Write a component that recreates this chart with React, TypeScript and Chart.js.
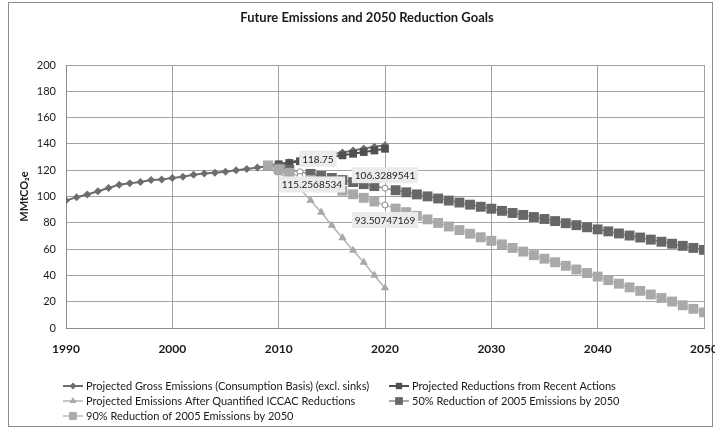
import React, { useEffect, useRef } from 'react';
import { Chart, registerables } from 'chart.js';
import { drawPoint } from 'chart.js/helpers';

Chart.register(...registerables);

const TITLE = 'Future Emissions and 2050 Reduction Goals';
const Y_TITLE = 'MMtCO₂e';
const FONT = 'Lato, "Open Sans", "DejaVu Sans", sans-serif';

const grossYears = [1990, 1991, 1992, 1993, 1994, 1995, 1996, 1997, 1998, 1999, 2000, 2001, 2002, 2003, 2004, 2005, 2006, 2007, 2008, 2009, 2010, 2011, 2012, 2013, 2014, 2015, 2016, 2017, 2018, 2019, 2020];
const grossValues = [97, 99.5, 101.5, 104, 106.5, 109, 110, 111, 112.5, 113, 114, 115, 116.5, 117.5, 118, 118.75, 120, 121, 122, 123, 124.5, 126, 127.5, 129, 130.5, 132, 133.5, 135, 136.5, 137.8, 139];

const recentYears = [2010, 2011, 2012, 2013, 2014, 2015, 2016, 2017, 2018, 2019, 2020];
const recentValues = [124.5, 125.5, 126.8, 127.8, 129, 130, 131.3, 132.5, 133.8, 135, 136.3];

const iccacYears = [2010, 2011, 2012, 2013, 2014, 2015, 2016, 2017, 2018, 2019, 2020];
const iccacValues = [118, 113, 106, 97, 88, 78, 68.5, 59, 50, 40, 30.5];

const goalYears = [2009, 2010, 2011, 2012, 2013, 2014, 2015, 2016, 2017, 2018, 2019, 2020, 2021, 2022, 2023, 2024, 2025, 2026, 2027, 2028, 2029, 2030, 2031, 2032, 2033, 2034, 2035, 2036, 2037, 2038, 2039, 2040, 2041, 2042, 2043, 2044, 2045, 2046, 2047, 2048, 2049, 2050];
const half2050Values = [123.4, 121.9, 120.3, 118.75, 117.2, 115.6, 114.1, 112.5, 111.0, 109.4, 107.9, 106.3289541, 104.8, 103.2, 101.6, 100.1, 98.5, 96.9, 95.4, 93.8, 92.2, 90.7, 89.1, 87.5, 86.0, 84.4, 82.9, 81.3, 79.7, 78.2, 76.6, 75.0, 73.5, 71.9, 70.3, 68.8, 67.2, 65.6, 64.1, 62.5, 60.9, 59.4];
const ninety2050Values = [123.4, 120.7, 118.0, 115.2568534, 112.5, 109.8, 107.1, 104.4, 101.7, 99.0, 96.2, 93.50747169, 90.8, 88.1, 85.3, 82.6, 79.9, 77.2, 74.5, 71.7, 69.0, 66.3, 63.6, 60.9, 58.1, 55.4, 52.7, 50.0, 47.3, 44.5, 41.8, 39.1, 36.4, 33.7, 30.9, 28.2, 25.5, 22.8, 20.1, 17.3, 14.6, 11.9];

const seriesNames = [
  'Projected Gross Emissions (Consumption Basis) (excl. sinks)',
  'Projected Reductions from Recent Actions',
  'Projected Emissions After Quantified ICCAC Reductions',
  '50% Reduction of 2005 Emissions by 2050',
  '90% Reduction of 2005 Emissions by 2050',
];

const xTicks = [1990, 2000, 2010, 2020, 2030, 2040, 2050];
const yTicks = [0, 20, 40, 60, 80, 100, 120, 140, 160, 180, 200];

// highlighted data labels: dataset index, year, label offset
const highlights = [
  { ds: 3, year: 2012, dx: 18, dy: -13 },
  { ds: 4, year: 2012, dx: 12, dy: 8 },
  { ds: 3, year: 2020, dx: 0, dy: -13 },
  { ds: 4, year: 2020, dx: 0, dy: 15 },
];

const toPts = (xs: number[], ys: number[]) => xs.map((x, i) => ({ x, y: ys[i] }));

const isHighlighted = (ds: number, year: number) => highlights.some((h) => h.ds === ds && h.year === year);

export default function App() {
  const ref = useRef<HTMLCanvasElement>(null);
  useEffect(() => {
    if (!ref.current) return;
    const styles = [
      { color: '#6d6d6d', line: '#6d6d6d', lw: 2, style: 'rectRot', r: 4, lr: 3.5 },
      { color: '#505050', line: '#505050', lw: 2, style: 'rect', r: 5.5, lr: 4.5 },
      { color: '#a8a8a8', line: '#b4b4b4', lw: 1.5, style: 'triangle', r: 4.8, lr: 4 },
      { color: '#676767', line: '#8c8c8c', lw: 1.5, style: 'rect', r: 7, lr: 5.5 },
      { color: '#a9a9a9', line: '#bdbdbd', lw: 1.5, style: 'rect', r: 7, lr: 5.5 },
    ];
    const dataSets = [
      toPts(grossYears, grossValues),
      toPts(recentYears, recentValues),
      toPts(iccacYears, iccacValues),
      toPts(goalYears, half2050Values),
      toPts(goalYears, ninety2050Values),
    ];
    const datasets = dataSets.map((data, i) => {
      const s = styles[i];
      const hl = (c: any) => isHighlighted(i, (c.raw && c.raw.x) as number);
      return {
        label: seriesNames[i],
        data,
        order: 5 - i,
        borderColor: s.line,
        borderWidth: s.lw,
        pointStyle: (c: any) => (hl(c) ? 'circle' : s.style),
        pointRadius: (c: any) => (hl(c) ? 3 : s.r),
        pointBackgroundColor: (c: any) => (hl(c) ? '#ffffff' : s.color),
        pointBorderColor: (c: any) => (hl(c) ? '#8a8a8a' : s.color),
        pointBorderWidth: (c: any) => (hl(c) ? 1 : 0),
        tension: 0,
        fill: false,
      };
    });

    const framePlugin = {
      id: 'frame',
      beforeDraw(chart: any) {
        const ctx = chart.ctx;
        ctx.save();
        ctx.fillStyle = '#ffffff';
        ctx.fillRect(0, 0, chart.width, chart.height);
        ctx.strokeStyle = '#8c8c8c';
        ctx.lineWidth = 1;
        ctx.strokeRect(8.5, 2.5, 704, 424);
        ctx.restore();
      },
      afterDraw(chart: any) {
        const ctx = chart.ctx;
        ctx.save();
        ctx.fillStyle = '#1a1a1a';
        ctx.font = `bold 13px ${FONT}`;
        ctx.textAlign = 'center';
        ctx.textBaseline = 'middle';
        ctx.fillText(TITLE, 367, 18);
        // legend
        const rows = [
          { ds: 0, x: 63, y: 386 },
          { ds: 1, x: 389, y: 386 },
          { ds: 2, x: 63, y: 401 },
          { ds: 3, x: 389, y: 401 },
          { ds: 4, x: 63, y: 416 },
        ];
        ctx.font = `11px ${FONT}`;
        ctx.textAlign = 'left';
        rows.forEach((r) => {
          const s = styles[r.ds];
          ctx.strokeStyle = s.line;
          ctx.lineWidth = s.lw;
          ctx.beginPath();
          ctx.moveTo(r.x, r.y);
          ctx.lineTo(r.x + 20, r.y);
          ctx.stroke();
          ctx.fillStyle = s.color;
          ctx.strokeStyle = s.color;
          drawPoint(ctx, { pointStyle: s.style, radius: s.lr, borderWidth: 0, rotation: 0 } as any, r.x + 10, r.y);
          ctx.fillStyle = '#1a1a1a';
          ctx.fillText(seriesNames[r.ds], r.x + 23, r.y + 0.5);
        });
        ctx.restore();
      },
      afterDatasetsDraw(chart: any) {
        const ctx = chart.ctx;
        const xs = chart.scales.x;
        const ys = chart.scales.y;
        ctx.save();
        ctx.font = `10px ${FONT}`;
        ctx.textAlign = 'center';
        ctx.textBaseline = 'middle';
        highlights.forEach((h) => {
          const pt = (chart.data.datasets[h.ds].data as any[]).find((p) => p.x === h.year);
          if (!pt) return;
          const px = xs.getPixelForValue(pt.x);
          const py = ys.getPixelForValue(pt.y);
          const text = String(pt.y);
          const w = ctx.measureText(text).width + 6;
          const cx = px + h.dx;
          const cy = py + h.dy;
          ctx.fillStyle = '#ebebeb';
          ctx.fillRect(cx - w / 2, cy - 8, w, 16);
          ctx.fillStyle = '#222222';
          ctx.fillText(text, cx, cy + 0.5);
        });
        ctx.restore();
      },
    };

    const chart = new Chart(ref.current, {
      type: 'line',
      data: { datasets: datasets as any },
      options: {
        animation: false,
        responsive: false,
        maintainAspectRatio: false,
        layout: { padding: { left: 14, right: 11, top: 65, bottom: 0 } },
        plugins: { legend: { display: false }, title: { display: false }, tooltip: { enabled: false } },
        scales: {
          x: {
            type: 'linear',
            min: xTicks[0],
            max: xTicks[xTicks.length - 1],
            afterBuildTicks: (scale: any) => {
              scale.ticks = xTicks.map((v) => ({ value: v }));
            },
            afterFit: (scale: any) => {
              scale.height = 102;
              scale.paddingLeft = 0;
              scale.paddingRight = 0;
            },
            grid: { color: '#a3a3a3', drawTicks: false, lineWidth: 1 },
            border: { color: '#8c8c8c', width: 1 },
            ticks: {
              padding: 14,
              color: '#1a1a1a',
              font: { family: FONT, size: 12, weight: 'bold' },
              callback: (v: any) => String(v),
              maxRotation: 0,
              autoSkip: false,
            },
          },
          y: {
            min: yTicks[0],
            max: yTicks[yTicks.length - 1],
            afterBuildTicks: (scale: any) => {
              scale.ticks = yTicks.map((v) => ({ value: v }));
            },
            afterFit: (scale: any) => {
              scale.width = 52;
            },
            grid: { color: '#a3a3a3', drawTicks: false, lineWidth: 1 },
            border: { color: '#8c8c8c', width: 1 },
            title: {
              display: true,
              text: Y_TITLE,
              color: '#1a1a1a',
              font: { family: FONT, size: 11, weight: 'bold' },
              padding: { top: 4, bottom: 0 },
            },
            ticks: {
              padding: 10,
              color: '#1a1a1a',
              font: { family: FONT, size: 11 },
              callback: (v: any) => String(v),
            },
          },
        },
      },
      plugins: [framePlugin],
    });
    return () => chart.destroy();
  }, []);
  return (
    <div style={{ position: 'fixed', left: 0, top: 0, width: 715, height: 430 }}>
      <canvas ref={ref} width={715} height={430} style={{ width: 715, height: 430, display: 'block' }} />
    </div>
  );
}
